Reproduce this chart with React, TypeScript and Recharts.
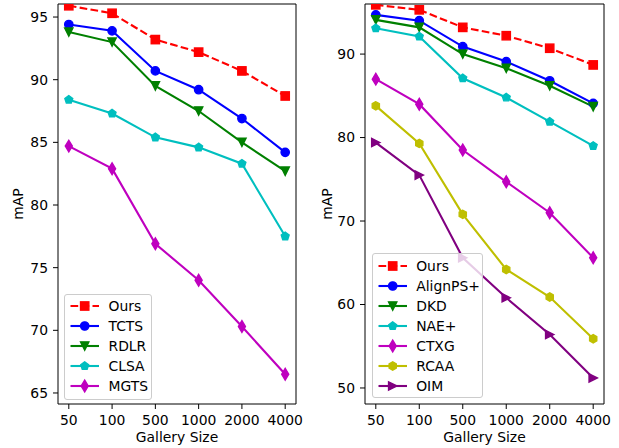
import { Line, LineChart, XAxis, YAxis } from "recharts";

const gallerySizes = ["50", "100", "500", "1000", "2000", "4000"];

// left panel
const oursLeft = [95.9, 95.3, 93.2, 92.2, 90.7, 88.7];
const tcts = [94.4, 93.9, 90.7, 89.2, 86.9, 84.2];
const rdlr = [93.8, 93.0, 89.5, 87.5, 85.0, 82.7];
const clsa = [88.4, 87.3, 85.4, 84.6, 83.3, 77.5];
const mgts = [84.7, 82.9, 76.9, 74.0, 70.3, 66.5];

// right panel
const oursRight = [95.9, 95.3, 93.2, 92.2, 90.7, 88.7];
const alignPS = [94.7, 94.0, 90.9, 89.1, 86.8, 84.1];
const dkd = [94.1, 93.2, 90.0, 88.3, 86.2, 83.7];
const naePlus = [93.1, 92.1, 87.1, 84.8, 81.9, 79.0];
const ctxg = [87.0, 84.0, 78.5, 74.7, 71.0, 65.6];
const rcaa = [83.8, 79.3, 70.8, 64.2, 60.9, 55.9];
const oim = [79.4, 75.5, 65.6, 60.8, 56.4, 51.2];

const leftTicks = [65, 70, 75, 80, 85, 90, 95];
const rightTicks = [50, 60, 70, 80, 90];

type Shape = "square" | "circle" | "triDown" | "pentagon" | "thinDiamond" | "hexagon" | "triRight";

interface Series {
    name: string;
    values: number[];
    color: string;
    shape: Shape;
    dashed?: boolean;
}

const leftSeries: Series[] = [
    { name: "Ours", values: oursLeft, color: "#ff0000", shape: "square", dashed: true },
    { name: "TCTS", values: tcts, color: "#0000ff", shape: "circle" },
    { name: "RDLR", values: rdlr, color: "#008000", shape: "triDown" },
    { name: "CLSA", values: clsa, color: "#00bfbf", shape: "pentagon" },
    { name: "MGTS", values: mgts, color: "#bf00bf", shape: "thinDiamond" },
];

const rightSeries: Series[] = [
    { name: "Ours", values: oursRight, color: "#ff0000", shape: "square", dashed: true },
    { name: "AlignPS+", values: alignPS, color: "#0000ff", shape: "circle" },
    { name: "DKD", values: dkd, color: "#008000", shape: "triDown" },
    { name: "NAE+", values: naePlus, color: "#00bfbf", shape: "pentagon" },
    { name: "CTXG", values: ctxg, color: "#bf00bf", shape: "thinDiamond" },
    { name: "RCAA", values: rcaa, color: "#bfbf00", shape: "hexagon" },
    { name: "OIM", values: oim, color: "#800080", shape: "triRight" },
];

const FONT = "'DejaVu Sans', sans-serif";
const MS = 8.3; // marker size in px

const polygon = (cx: number, cy: number, r: number, n: number) => {
    const pts: string[] = [];
    for (let k = 0; k < n; k++) {
        const a = Math.PI / 2 + (2 * Math.PI * k) / n;
        pts.push(`${cx + r * Math.cos(a)},${cy - r * Math.sin(a)}`);
    }
    return pts.join(" ");
};

const Marker = ({ shape, color, cx, cy }: { shape: Shape; color: string; cx: number; cy: number }) => {
    const h = MS / 2;
    const common = { fill: color, stroke: color, strokeWidth: 1.4, strokeLinejoin: "miter" as const };
    switch (shape) {
        case "circle":
            return <circle cx={cx} cy={cy} r={h} {...common} />;
        case "square":
            return <rect x={cx - h} y={cy - h} width={MS} height={MS} {...common} />;
        case "triDown":
            return <polygon points={`${cx},${cy + h} ${cx - h},${cy - h} ${cx + h},${cy - h}`} {...common} />;
        case "triRight":
            return <polygon points={`${cx + h},${cy} ${cx - h},${cy - h} ${cx - h},${cy + h}`} {...common} />;
        case "pentagon":
            return <polygon points={polygon(cx, cy, h, 5)} {...common} />;
        case "hexagon":
            return <polygon points={polygon(cx, cy, h, 6)} {...common} />;
        case "thinDiamond": {
            const d = MS * 0.707;
            return (
                <polygon
                    points={`${cx},${cy - d} ${cx + 0.6 * d},${cy} ${cx},${cy + d} ${cx - 0.6 * d},${cy}`}
                    {...common}
                />
            );
        }
    }
    return null;
};

const buildRows = (series: Series[]) =>
    gallerySizes.map((size, i) => {
        const row: Record<string, string | number> = { size };
        series.forEach((s) => (row[s.name] = s.values[i]));
        return row;
    });

const tickStyle = { fontSize: 13.9, fill: "#000", fontFamily: FONT };

interface PanelProps {
    left: number;
    width: number;
    series: Series[];
    domain: [number, number];
    ticks: number[];
    yAxisWidth: number;
    marginRight: number;
    labelX: number;
    legend: { x: number; y: number; w: number; h: number; padTop: number };
}

const Panel = ({ left, width, series, domain, ticks, yAxisWidth, marginRight, labelX, legend }: PanelProps) => (
    <div style={{ position: "absolute", left, top: 0, width, height: 448 }}>
        <LineChart
            width={width}
            height={448}
            data={buildRows(series)}
            margin={{ top: 3, right: marginRight - 1, bottom: 4, left: 0 }}
        >
            <XAxis
                dataKey="size"
                height={40}
                padding={{ left: 10.8, right: 10.8 }}
                tick={tickStyle}
                tickSize={5}
                tickMargin={6}
                stroke="#000"
                interval={0}
                label={{ value: "Gallery Size", position: "insideBottom", offset: 2, style: tickStyle }}
            />
            <XAxis
                xAxisId="top"
                orientation="top"
                dataKey="size"
                height={1}
                padding={{ left: 10.8, right: 10.8 }}
                tick={false}
                tickLine={false}
                stroke="#000"
            />
            <YAxis
                type="number"
                domain={domain}
                ticks={ticks}
                allowDataOverflow
                width={yAxisWidth}
                tick={tickStyle}
                tickSize={5}
                tickMargin={5}
                stroke="#000"
                label={() => (
                    <text
                        x={labelX}
                        y={204}
                        transform={`rotate(-90 ${labelX} 204)`}
                        textAnchor="middle"
                        dominantBaseline="central"
                        style={tickStyle}
                    >
                        mAP
                    </text>
                )}
            />
            <YAxis
                yAxisId="right"
                orientation="right"
                type="number"
                domain={domain}
                allowDataOverflow
                width={1}
                tick={false}
                tickLine={false}
                stroke="#000"
            />
            {/* invisible series so the top/right frame axes get drawn */}
            <Line
                xAxisId="top"
                yAxisId="right"
                dataKey={series[0].name}
                stroke="none"
                dot={false}
                activeDot={false}
                legendType="none"
                isAnimationActive={false}
            />
            {series.map((s) => (
                <Line
                    key={s.name}
                    dataKey={s.name}
                    stroke={s.color}
                    strokeWidth={2.1}
                    strokeDasharray={s.dashed ? "7.7 3.3" : undefined}
                    isAnimationActive={false}
                    activeDot={false}
                    dot={(p: any) => (
                        <Marker key={`${s.name}-${p.index}`} shape={s.shape} color={s.color} cx={p.cx} cy={p.cy} />
                    )}
                />
            ))}
        </LineChart>
        <div
            style={{
                position: "absolute",
                left: legend.x,
                top: legend.y,
                width: legend.w,
                height: legend.h,
                boxSizing: "border-box",
                border: "1px solid #cccccc",
                borderRadius: 3,
                background: "rgba(255,255,255,0.8)",
                paddingTop: legend.padTop,
                fontFamily: FONT,
                fontSize: 13.9,
            }}
        >
            {series.map((s) => (
                <div key={s.name} style={{ height: 20, display: "flex", alignItems: "center" }}>
                    <svg width={40} height={20} style={{ flex: "none" }}>
                        <line
                            x1={5.5}
                            x2={34}
                            y1={10}
                            y2={10}
                            stroke={s.color}
                            strokeWidth={2.1}
                            strokeDasharray={s.dashed ? "7.7 3.3" : undefined}
                        />
                        <Marker shape={s.shape} color={s.color} cx={19.7} cy={10} />
                    </svg>
                    <span style={{ marginLeft: 3.5, lineHeight: "20px", color: "#000" }}>{s.name}</span>
                </div>
            ))}
        </div>
    </div>
);

export default function App() {
    return (
        <div style={{ position: "absolute", left: 0, top: 0, width: 619, height: 448, background: "#fff", fontFamily: FONT }}>
            <Panel
                left={0}
                width={310}
                series={leftSeries}
                domain={[64.12, 96.04]}
                ticks={leftTicks}
                yAxisWidth={58}
                marginRight={14}
                labelX={18}
                legend={{ x: 64, y: 294, w: 88, h: 106, padTop: 1 }}
            />
            <Panel
                left={310}
                width={309}
                series={rightSeries}
                domain={[48.08, 96.0]}
                ticks={rightTicks}
                yAxisWidth={55}
                marginRight={15}
                labelX={17}
                legend={{ x: 61.7, y: 253, w: 111.6, h: 145, padTop: 2 }}
            />
        </div>
    );
}
